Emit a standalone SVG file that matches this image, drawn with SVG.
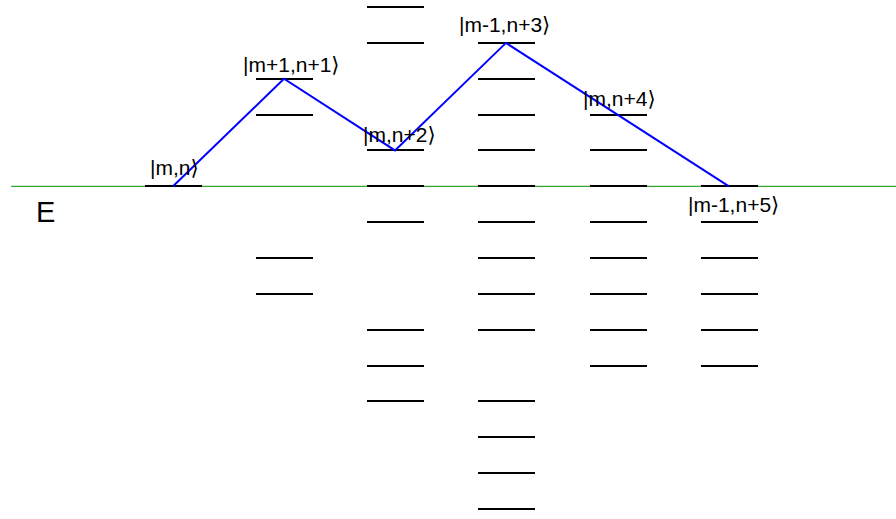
<svg xmlns="http://www.w3.org/2000/svg" width="896" height="519" viewBox="0 0 896 519">
<style>
.lv{stroke:#000;stroke-width:2;fill:none}
.lb{font-family:"Liberation Sans",Arial,"DejaVu Sans",sans-serif;font-size:21px;fill:#000}
.ax{stroke:#36a836;stroke-width:1.2;fill:none}
.pth{stroke:#0000ff;stroke-width:2;fill:none;stroke-linejoin:miter}
</style>
<rect width="896" height="519" fill="#fff"/>
<g id="energy-axis">
<line class="ax" x1="11" y1="186.3" x2="896" y2="186.3"/>
<text class="lb" x="36" y="222" style="font-size:29px">E</text>
</g>
<g id="col1">
<line class="lv" x1="145" y1="186" x2="202" y2="186"/>
</g>
<g id="col2">
<line class="lv" x1="256" y1="79" x2="313" y2="79"/>
<line class="lv" x1="256" y1="115" x2="313" y2="115"/>
<line class="lv" x1="256" y1="258" x2="313" y2="258"/>
<line class="lv" x1="256" y1="294" x2="313" y2="294"/>
</g>
<g id="col3">
<line class="lv" x1="367" y1="7" x2="424" y2="7"/>
<line class="lv" x1="367" y1="43" x2="424" y2="43"/>
<line class="lv" x1="367" y1="150" x2="424" y2="150"/>
<line class="lv" x1="367" y1="186" x2="424" y2="186"/>
<line class="lv" x1="367" y1="222" x2="424" y2="222"/>
<line class="lv" x1="367" y1="330" x2="424" y2="330"/>
<line class="lv" x1="367" y1="366" x2="424" y2="366"/>
<line class="lv" x1="367" y1="401" x2="424" y2="401"/>
</g>
<g id="col4">
<line class="lv" x1="478" y1="43" x2="535" y2="43"/>
<line class="lv" x1="478" y1="79" x2="535" y2="79"/>
<line class="lv" x1="478" y1="115" x2="535" y2="115"/>
<line class="lv" x1="478" y1="150" x2="535" y2="150"/>
<line class="lv" x1="478" y1="186" x2="535" y2="186"/>
<line class="lv" x1="478" y1="222" x2="535" y2="222"/>
<line class="lv" x1="478" y1="258" x2="535" y2="258"/>
<line class="lv" x1="478" y1="294" x2="535" y2="294"/>
<line class="lv" x1="478" y1="330" x2="535" y2="330"/>
<line class="lv" x1="478" y1="401" x2="535" y2="401"/>
<line class="lv" x1="478" y1="437" x2="535" y2="437"/>
<line class="lv" x1="478" y1="473" x2="535" y2="473"/>
<line class="lv" x1="478" y1="509" x2="535" y2="509"/>
</g>
<g id="col5">
<line class="lv" x1="590" y1="115" x2="647" y2="115"/>
<line class="lv" x1="590" y1="150" x2="647" y2="150"/>
<line class="lv" x1="590" y1="186" x2="647" y2="186"/>
<line class="lv" x1="590" y1="222" x2="647" y2="222"/>
<line class="lv" x1="590" y1="258" x2="647" y2="258"/>
<line class="lv" x1="590" y1="294" x2="647" y2="294"/>
<line class="lv" x1="590" y1="330" x2="647" y2="330"/>
<line class="lv" x1="590" y1="366" x2="647" y2="366"/>
</g>
<g id="col6">
<line class="lv" x1="701" y1="186" x2="758" y2="186"/>
<line class="lv" x1="701" y1="222" x2="758" y2="222"/>
<line class="lv" x1="701" y1="258" x2="758" y2="258"/>
<line class="lv" x1="701" y1="294" x2="758" y2="294"/>
<line class="lv" x1="701" y1="330" x2="758" y2="330"/>
<line class="lv" x1="701" y1="366" x2="758" y2="366"/>
</g>
<g id="connectors">
<polyline class="pth" points="173,186.3 284,78.7 395,150.4 506,42.9 729,186.3"/>
</g>
<g id="state-m-n"><text class="lb" x="150" y="175">|m,n⟩</text></g>
<g id="state-m1-n1"><text class="lb" x="243" y="72">|m+1,n+1⟩</text></g>
<g id="state-m-n2"><text class="lb" x="363" y="142">|m,n+2⟩</text></g>
<g id="state-m-1-n3"><text class="lb" x="459" y="32">|m-1,n+3⟩</text></g>
<g id="state-m-n4"><text class="lb" x="583" y="106">|m,n+4⟩</text></g>
<g id="state-m-1-n5"><text class="lb" x="688" y="212">|m-1,n+5⟩</text></g>
</svg>
